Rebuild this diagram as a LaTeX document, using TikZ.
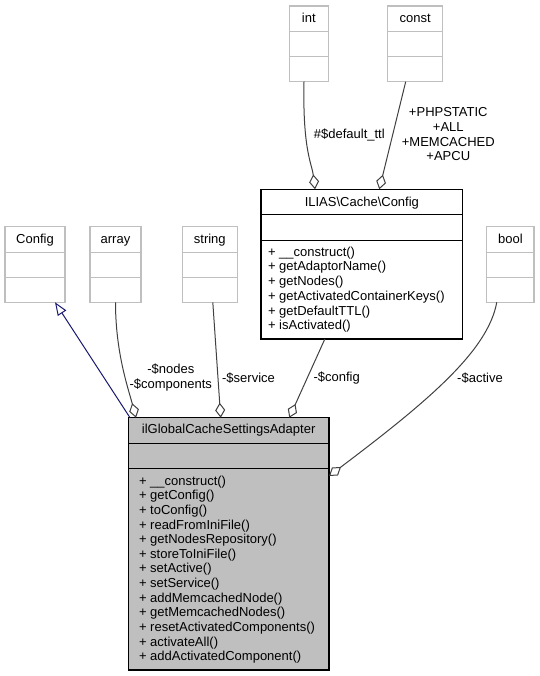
\documentclass[tikz,border=0pt]{standalone}
\usepackage{fontspec}
\setmainfont{Liberation Sans}
\usetikzlibrary{arrows.meta,calc}
\definecolor{edgegray}{HTML}{404040}
\definecolor{boxgray}{HTML}{BFBFBF}
\definecolor{inhblue}{HTML}{191970}
\begin{document}
\begin{tikzpicture}[x=1pt,y=-1pt,
  txt/.style={font=\fontsize{13}{14.7}\selectfont, inner sep=0pt},
  lightbox/.style={draw=boxgray, line width=1.2pt, anchor=north west, inner sep=0pt, outer sep=0pt},
  darkbox/.style={draw=black, line width=1.2pt, anchor=north west, inner sep=0pt, outer sep=0pt},
  lightdiv/.style={draw=boxgray, line width=1.2pt},
  darkdiv/.style={draw=black, line width=1.2pt},
  agg/.style={draw=edgegray, line width=1pt, -{Diamond[open,length=15pt,width=10pt]}},
  inh/.style={draw=inhblue, line width=1pt, -{Triangle[open,length=13pt,width=10pt]}},
]
\useasboundingbox (0,0) rectangle (539,676);

% ---- small light boxes ----
\node[lightbox, minimum width=39pt, minimum height=75.7pt] (int) at (289.3,6) {};
\node[lightbox, minimum width=55pt, minimum height=75.7pt] (const) at (387.7,6) {};
\node[lightbox, minimum width=60pt, minimum height=75.6pt] (cfg) at (5,226.7) {};
\node[lightbox, minimum width=51pt, minimum height=75.6pt] (array) at (90,226.7) {};
\node[lightbox, minimum width=55pt, minimum height=75.6pt] (string) at (182.3,226.7) {};
\node[lightbox, minimum width=47.3pt, minimum height=75.6pt] (bool) at (486.7,226.7) {};

\foreach \b in {int,const} {
  \draw[lightdiv] ([yshift=-25.7pt]\b.north west) -- ([yshift=-25.7pt]\b.north east);
  \draw[lightdiv] ([yshift=-50.7pt]\b.north west) -- ([yshift=-50.7pt]\b.north east);
}
\foreach \b in {cfg,array,string,bool} {
  \draw[lightdiv] ([yshift=-25.6pt]\b.north west) -- ([yshift=-25.6pt]\b.north east);
  \draw[lightdiv] ([yshift=-50.6pt]\b.north west) -- ([yshift=-50.6pt]\b.north east);
}

\node[txt, anchor=base] (tint) at ([yshift=-16.3pt]int.north) {int};
\node[txt, anchor=base] (tconst) at ([yshift=-16.3pt]const.north) {const};
\node[txt, anchor=base] (tcfg) at ([yshift=-16.3pt]cfg.north) {Config};
\node[txt, anchor=base] (tarray) at ([yshift=-16.3pt]array.north) {array};
\node[txt, anchor=base] (tstring) at ([yshift=-16.3pt]string.north) {string};
\node[txt, anchor=base] (tbool) at ([yshift=-16.3pt]bool.north) {bool};

% ---- ILIAS\Cache\Config ----
\node[darkbox, minimum width=201.7pt, minimum height=149.7pt] (ilias) at (261,189.3) {};
\draw[darkdiv] ([yshift=-25.4pt]ilias.north west) -- ([yshift=-25.4pt]ilias.north east);
\draw[darkdiv] ([yshift=-51.4pt]ilias.north west) -- ([yshift=-51.4pt]ilias.north east);
\node[txt, anchor=base] (tilias) at ([yshift=-16.8pt]ilias.north) {ILIAS\textbackslash Cache\textbackslash Config};
\foreach \m [count=\i from 0] in {\_\_construct(),getAdaptorName(),getNodes(),getActivatedContainerKeys(),getDefaultTTL(),isActivated()}
  \node[txt, anchor=base west] (im\i) at (267.8,{256.2+14.7*\i}) {+ \m};

% ---- ilGlobalCacheSettingsAdapter ----
\node[darkbox, fill=boxgray, minimum width=200.7pt, minimum height=252.3pt] (main) at (128.3,417.7) {};
\draw[darkdiv] ([yshift=-25.6pt]main.north west) -- ([yshift=-25.6pt]main.north east);
\draw[darkdiv] ([yshift=-50.6pt]main.north west) -- ([yshift=-50.6pt]main.north east);
\node[txt, anchor=base] (tmain) at ([yshift=-16.2pt]main.north) {ilGlobalCacheSettingsAdapter};
\foreach \m [count=\i from 0] in {\_\_construct(),getConfig(),toConfig(),readFromIniFile(),getNodesRepository(),storeToIniFile(),setActive(),setService(),addMemcachedNode(),getMemcachedNodes(),resetActivatedComponents(),activateAll(),addActivatedComponent()}
  \node[txt, anchor=base west] (mm\i) at (138.8,{485.2+14.62*\i}) {+ \m};

% ---- connectors ----
\draw[inh] ([xshift=1.7pt]main.north west) -- ([xshift=20pt]cfg.south);
\draw[agg] (array.south) .. controls +(0,50) and +(-8,-30) .. ([xshift=7.7pt]main.north west);
\draw[agg] ([xshift=3pt]string.south) -- ([xshift=92.4pt]main.north west);
\draw[agg] ([xshift=-37pt]ilias.south) -- ([xshift=161pt]main.north west);
\draw[agg] ([xshift=-13.6pt]bool.south) .. controls +(-8.7,48) and +(100.7,-76) .. ([yshift=-58.3pt]main.north east);
\draw[agg] ([xshift=-4.8pt]int.south) .. controls +(-1.5,68) and +(-3,-25) .. ([xshift=54pt]ilias.north west);
\draw[agg] ([xshift=-9.5pt]const.south) -- ([xshift=118.3pt]ilias.north west);

% ---- labels ----
\node[txt] (lttl) at (349.3,135) {\#\$default\_ttl};
\node[txt, align=center] (lconst) at (448.3,134.3) {+PHPSTATIC\\+ALL\\+MEMCACHED\\+APCU};
\node[txt, align=center] (lnodes) at (170.8,377.3) {-\$nodes\\-\$components};
\node[txt] (lserv) at (248.5,377.7) {-\$service};
\node[txt] (lconf) at (336.7,377.7) {-\$config};
\node[txt] (lact) at (480,377.7) {-\$active};
\end{tikzpicture}
\end{document}
